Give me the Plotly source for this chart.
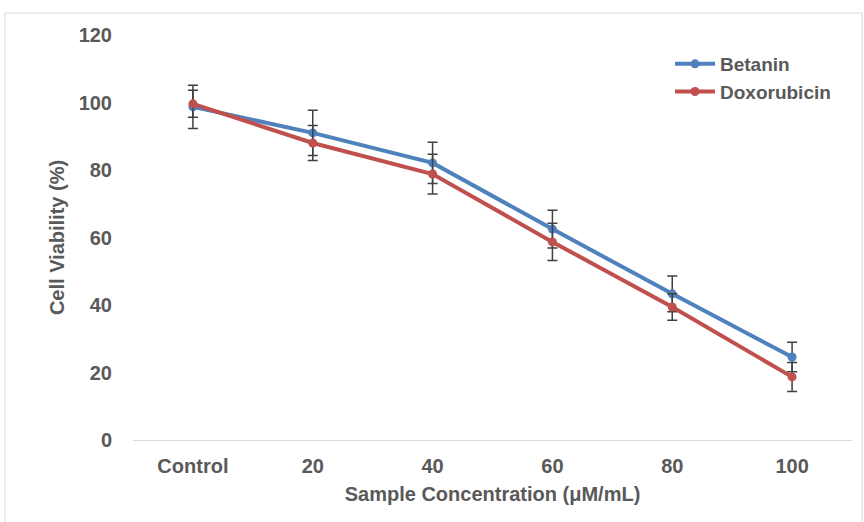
import plotly.graph_objects as go

categories = ["Control", "20", "40", "60", "80", "100"]
betanin = [98.7, 91.0, 82.1, 62.5, 43.3, 24.6]
betanin_err = [6.4, 6.7, 6.1, 5.6, 5.3, 4.4]
doxorubicin = [99.6, 88.0, 78.8, 58.7, 39.4, 18.7]
doxorubicin_err = [4.0, 5.2, 5.9, 5.5, 3.9, 4.3]
y_ticks = [0, 20, 40, 60, 80, 100, 120]

FONT = "Liberation Sans, Arial, sans-serif"
TXT = "#595959"
FS = 20

fig = go.Figure()
fig.add_trace(go.Scatter(
    x=categories, y=betanin, name="<b>Betanin</b>", mode="lines+markers",
    line=dict(color="#4F81BD", width=4), marker=dict(size=9, color="#4F81BD"),
    error_y=dict(type="data", array=betanin_err, color="#404040", thickness=1.5, width=5),
))
fig.add_trace(go.Scatter(
    x=categories, y=doxorubicin, name="<b>Doxorubicin</b>", mode="lines+markers",
    line=dict(color="#C0504D", width=4), marker=dict(size=9, color="#C0504D"),
    error_y=dict(type="data", array=doxorubicin_err, color="#404040", thickness=1.5, width=5),
))

L, R, T, B = 133, 12, 35, 82
W, H = 864, 522
pw, ph = W - L - R, H - T - B

fig.update_layout(
    width=W, height=H,
    margin=dict(l=L, r=R, t=T, b=B),
    paper_bgcolor="white", plot_bgcolor="white",
    font=dict(family=FONT, size=FS, color=TXT),
    showlegend=True,
    legend=dict(x=(670 - L) / pw, y=(440 - 45) / ph, xanchor="left", yanchor="top",
                bgcolor="rgba(0,0,0,0)", font=dict(size=19, color=TXT),
                tracegroupgap=0, itemwidth=40),
    xaxis=dict(
        type="category", range=[-0.5, 5.5],
        showline=True, linecolor="#d9d9d9", linewidth=1,
        showgrid=False, zeroline=False, ticks="",
        ticklabelstandoff=8,
        tickfont=dict(family=FONT, size=FS, color=TXT),
        tickvals=categories, ticktext=[f"<b>{c}</b>" for c in categories],
        title=dict(text="<b>Sample Concentration (μM/mL)</b>", standoff=10,
                   font=dict(family=FONT, size=FS, color=TXT)),
    ),
    yaxis=dict(
        range=[0, 120], tickvals=y_ticks, ticktext=[f"<b>{v}</b>" for v in y_ticks],
        showline=False, showgrid=False, zeroline=False, ticks="",
        ticklabelstandoff=20,
        tickfont=dict(family=FONT, size=FS, color=TXT),
        title=dict(text="<b>Cell Viability (%)</b>", standoff=8,
                   font=dict(family=FONT, size=FS, color=TXT)),
    ),
    shapes=[dict(type="rect", xref="paper", yref="paper",
                 x0=(5 - L) / pw, x1=(862 - L) / pw,
                 y0=(440 - 540) / ph, y1=(440 - 13) / ph,
                 line=dict(color="#d9d9d9", width=1), fillcolor="rgba(0,0,0,0)", layer="below")],
)

fig.write_html("out.html", config={"displayModeBar": False},
               post_script="document.body.style.margin='0';")
